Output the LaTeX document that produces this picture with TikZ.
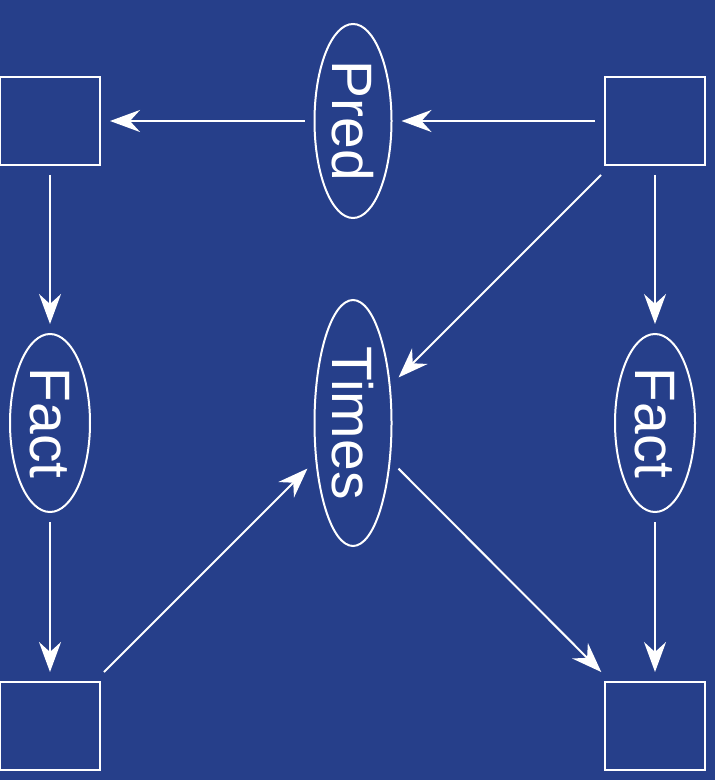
\documentclass[tikz,border=0pt]{standalone}
\usepackage{fontspec}
\setmainfont{Liberation Sans}
\usepackage{graphicx}
\usetikzlibrary{arrows.meta, shapes.geometric}

\definecolor{bgblue}{HTML}{263F8A}

\begin{document}
\begin{tikzpicture}[
    x=0.5pt,y=-0.5pt,
    box/.style={draw=white, line width=1pt, minimum width=50pt, minimum height=44pt, inner sep=0pt, outer sep=5pt},
    oval/.style={draw=white, ellipse, line width=1pt, inner sep=0pt, outer sep=5pt, text=white,
        font=\fontsize{28.5}{34}\selectfont},
    line/.style={white, line width=1pt, -{Stealth[length=15pt, width=11pt, inset=5pt]}}
    ]
    \fill[bgblue] (0, 0) rectangle (715, 780);
    \useasboundingbox (0, 0) rectangle (715, 780);
    % corner boxes
    \node[box] (tl) at (50, 121) {};
    \node[box] (tr) at (655, 121) {};
    \node[box] (bl) at (50, 726) {};
    \node[box] (br) at (655, 726) {};
    % function ovals
    \node[oval, minimum width=38.5pt, minimum height=97pt] (pred) at (353, 121) {\rotatebox{-90}{Pred}};
    \node[oval, minimum width=38.5pt, minimum height=123pt] (times) at (353, 423) {\rotatebox{-90}{Times}};
    \node[oval, minimum width=40pt, minimum height=89pt] (factl) at (50, 423) {\rotatebox{-90}{Fact}};
    \node[oval, minimum width=40pt, minimum height=89pt] (factr) at (655, 423) {\rotatebox{-90}{Fact}};
    % arrows
    \draw[line] (tr) -- (pred);
    \draw[line] (pred) -- (tl);
    \draw[line] (tl) -- (factl);
    \draw[line] (factl) -- (bl);
    \draw[line] (tr) -- (factr);
    \draw[line] (factr) -- (br);
    \draw[line] (tr) -- (times);
    \draw[line] (bl) -- (times);
    \draw[line] (times) -- (br);
\end{tikzpicture}
\end{document}
